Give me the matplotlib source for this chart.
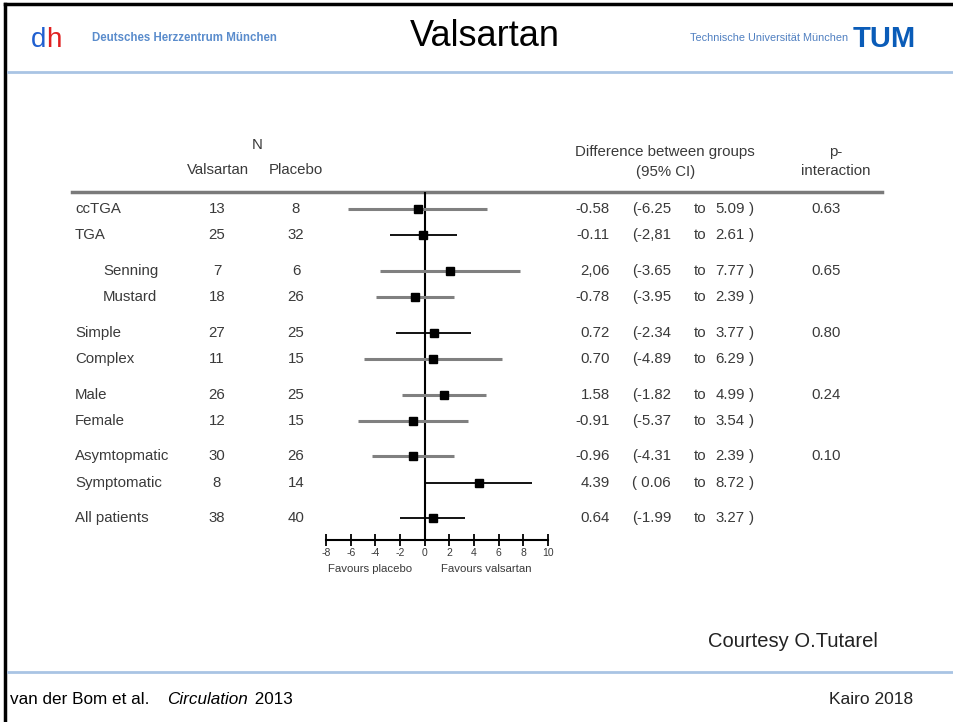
import matplotlib
matplotlib.use("Agg")
import matplotlib.pyplot as plt
import matplotlib.transforms as mtransforms

plt.rcParams['font.family'] = ['Liberation Sans', 'DejaVu Sans']
plt.rcParams['axes.unicode_minus'] = False

# subgroup data (van der Bom et al. 2013)
groups = ["ccTGA", "TGA", "Senning", "Mustard", "Simple", "Complex",
          "Male", "Female", "Asymtopmatic", "Symptomatic", "All patients"]
indented = [False, False, True, True, False, False, False, False, False, False, False]
n_valsartan = [13, 25, 7, 18, 27, 11, 26, 12, 30, 8, 38]
n_placebo = [8, 32, 6, 26, 25, 15, 25, 15, 26, 14, 40]
diff = [-0.58, -0.11, 2.06, -0.78, 0.72, 0.70, 1.58, -0.91, -0.96, 4.39, 0.64]
ci_low = [-6.25, -2.81, -3.65, -3.95, -2.34, -4.89, -1.82, -5.37, -4.31, 0.06, -1.99]
ci_high = [5.09, 2.61, 7.77, 2.39, 3.77, 6.29, 4.99, 3.54, 2.39, 8.72, 3.27]
diff_txt = ["-0.58", "-0.11", "2,06", "-0.78", "0.72", "0.70", "1.58", "-0.91", "-0.96", "4.39", "0.64"]
low_txt = ["-6.25", "-2,81", "-3.65", "-3.95", "-2.34", "-4.89", "-1.82", "-5.37", "-4.31", " 0.06", "-1.99"]
high_txt = ["5.09", "2.61", "7.77", "2.39", "3.77", "6.29", "4.99", "3.54", "2.39", "8.72", "3.27"]
p_interaction = ["0.63", "", "0.65", "", "0.80", "", "0.24", "", "0.10", "", ""]
grey_ci = [True, False, True, True, False, True, True, True, True, False, False]
group_id = [0, 0, 1, 1, 2, 2, 3, 3, 4, 4, 5]
xticks = [-8, -6, -4, -2, 0, 2, 4, 6, 8, 10]

# row positions: one unit per row, extra gap between subgroup blocks
ypos = [i + 0.37 * g for i, g in enumerate(group_id)]

W, H = 954, 722
fig = plt.figure(figsize=(W / 100, H / 100), dpi=100)
bg = fig.add_axes([0, 0, 1, 1])
bg.set_xlim(0, W)
bg.set_ylim(H, 0)
bg.axis('off')

# slide frame and header / footer
bg.plot([5, 5], [4, H], color='black', lw=2.5)
bg.plot([5, W], [4, 4], color='black', lw=2.5)
bg.plot([8, W], [72, 72], color='#a9c4e4', lw=2)
bg.plot([8, W], [672, 672], color='#a9c4e4', lw=2)

# logo letters
bg.text(31, 47, "d", color='#1f5fd0', fontsize=20, va='baseline')
bg.text(46, 47, "h", color='#e02020', fontsize=20, va='baseline')
bg.text(92, 41, "Deutsches Herzzentrum München", color='#5a8ccc', fontsize=8.3,
        fontweight='bold', va='baseline')
bg.text(485, 46, "Valsartan", fontsize=26, ha='center', va='baseline')
bg.text(848, 41, "Technische Universität München", color='#4f7fc0', fontsize=7.8,
        ha='right', va='baseline')
bg.text(884, 47, "TUM", color='#0a5cb8', fontsize=21, fontweight='heavy',
        ha='center', va='baseline')

bg.text(878, 647, "Courtesy O.Tutarel", fontsize=14.5, ha='right', va='baseline', color='#222222')
bg.text(10, 704, "van der Bom et al. ", fontsize=12.3, va='baseline')
bg.text(167, 704, "Circulation", fontsize=12.3, va='baseline', style='italic')
bg.text(250, 704, " 2013", fontsize=12.3, va='baseline')
bg.text(913, 704, "Kairo 2018", fontsize=12.5, ha='right', va='baseline', color='#222222')

# table header
tc = '#3a3a3a'
fs = 10.8
bg.text(257, 145, "N", fontsize=fs, ha='center', va='center', color=tc)
bg.text(218, 170, "Valsartan", fontsize=fs, ha='center', va='center', color=tc)
bg.text(296, 170, "Placebo", fontsize=fs, ha='center', va='center', color=tc)
bg.text(665, 152, "Difference between groups", fontsize=fs, ha='center', va='center', color=tc)
bg.text(666, 172, "(95% CI)", fontsize=fs, ha='center', va='center', color=tc)
bg.text(836, 152, "p-", fontsize=fs, ha='center', va='center', color=tc)
bg.text(836, 171, "interaction", fontsize=fs, ha='center', va='center', color=tc)
bg.plot([72, 882], [192, 192], color='#7a7a7a', lw=2.5)

# forest plot axes
x0, x1 = 326, 548
top, bot = 192, 540
ax = fig.add_axes([x0 / W, 1 - bot / H, (x1 - x0) / W, (bot - top) / H])
ax.set_xlim(-8, 10)
row0, row_px = 209, 26.1
ax.set_ylim((bot - row0) / row_px, (top - row0) / row_px)
ax.patch.set_alpha(0)
for s in ['left', 'right', 'top']:
    ax.spines[s].set_visible(False)
ax.spines['bottom'].set_linewidth(1.5)
ax.set_yticks([])
ax.set_xticks(xticks)
ax.tick_params(axis='x', which='major', direction='inout', length=9, width=1.3,
               labelsize=7.5, labelcolor=tc, pad=1)
ax.axvline(0, color='black', lw=1.5)

for i in range(len(groups)):
    col = '#808080' if grey_ci[i] else 'black'
    lw = 2.2 if grey_ci[i] else 1.3
    ax.plot([ci_low[i], ci_high[i]], [ypos[i], ypos[i]], color=col, lw=lw,
            solid_capstyle='butt')
    ax.plot(diff[i], ypos[i], marker='s', color='black', ms=5.5)

trans_lbl = mtransforms.blended_transform_factory(ax.transData, bg.transData)
ax.text(-4.4, 569, "Favours placebo", transform=trans_lbl, ha='center', va='center',
        fontsize=8.2, color=tc)
ax.text(5.0, 569, "Favours valsartan", transform=trans_lbl, ha='center', va='center',
        fontsize=8.2, color=tc)

# table columns, x in figure pixels, y in row units
tr = mtransforms.blended_transform_factory(bg.transData, ax.transData)
for i in range(len(groups)):
    y = ypos[i]
    kw = dict(transform=tr, va='center', fontsize=fs, color=tc, clip_on=False)
    bg.text(103 if indented[i] else 75, y, groups[i], ha='left', **kw)
    bg.text(217, y, str(n_valsartan[i]), ha='center', **kw)
    bg.text(296, y, str(n_placebo[i]), ha='center', **kw)
    bg.text(610, y, diff_txt[i], ha='right', **kw)
    bg.text(632, y, "(" + low_txt[i], ha='left', **kw)
    bg.text(700, y, "to", ha='center', **kw)
    bg.text(745, y, high_txt[i], ha='right', **kw)
    bg.text(749, y, ")", ha='left', **kw)
    if p_interaction[i]:
        bg.text(826, y, p_interaction[i], ha='center', **kw)

fig.savefig("out.png", dpi=100)
